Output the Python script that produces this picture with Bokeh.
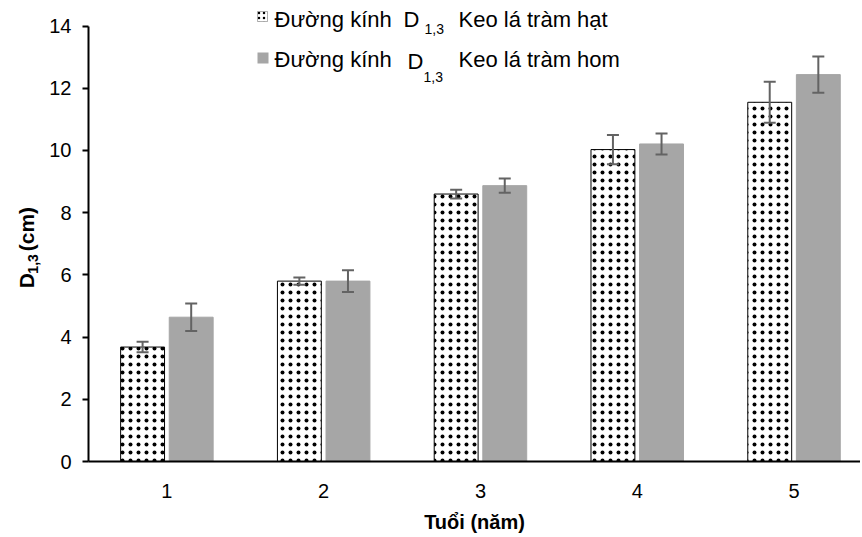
import math
from bokeh.plotting import figure
from bokeh.layouts import row
from bokeh.models import (ColumnDataSource, Whisker, Label, BoxAnnotation,
                          FixedTicker, Range1d)
from bokeh.embed import file_html
from bokeh.resources import INLINE

# ---- data ----
ages = [1, 2, 3, 4, 5]
age_labels = ["1", "2", "3", "4", "5"]
d_hat = [3.68, 5.80, 8.60, 10.03, 11.55]       # Keo lá tràm hạt
err_hat = [0.17, 0.12, 0.14, 0.47, 0.66]
d_hom = [4.64, 5.80, 8.87, 10.21, 12.44]       # Keo lá tràm hom
err_hom = [0.44, 0.35, 0.23, 0.34, 0.58]
y_ticks = [0, 2, 4, 6, 8, 10, 12, 14]

FONT = "Liberation Sans"
GRAY = "#A6A6A6"
ERR = "#636363"

OFF = 0.155
BW = 0.28

x_hat = [a - OFF for a in ages]
x_hom = [a + OFF for a in ages]

src_hat = ColumnDataSource(dict(
    x=x_hat, top=d_hat,
    upper=[v + e for v, e in zip(d_hat, err_hat)],
    lower=[v - e for v, e in zip(d_hat, err_hat)]))
src_hom = ColumnDataSource(dict(
    x=x_hom, top=d_hom,
    upper=[v + e for v, e in zip(d_hom, err_hom)],
    lower=[v - e for v, e in zip(d_hom, err_hom)]))

H = 535
TW = 46          # width of the y-title strip
W = 860 - TW

p = figure(width=W, height=H, output_backend="svg", toolbar_location=None,
           x_range=Range1d(0.5, 5.424), y_range=Range1d(0, 14.823),
           min_border_left=41, min_border_right=0, min_border_top=0,
           min_border_bottom=72)
p.outline_line_color = None
p.xgrid.grid_line_color = None
p.ygrid.grid_line_color = None
p.background_fill_color = "white"
p.border_fill_color = "white"

p.vbar(x="x", top="top", width=BW, source=src_hat, fill_color="white",
       line_color="black", line_width=1, hatch_pattern="dot",
       hatch_color="black", hatch_scale=8, hatch_weight=1)
p.vbar(x="x", top="top", width=BW, source=src_hom, fill_color=GRAY,
       line_color=GRAY, line_width=1)

for src in (src_hat, src_hom):
    w = Whisker(base="x", upper="upper", lower="lower", source=src,
                line_color=ERR, line_width=2, level="overlay")
    for head in (w.upper_head, w.lower_head):
        head.size = 12
        head.line_color = ERR
        head.line_width = 2
    p.add_layout(w)

# axes
xa = p.xaxis[0]
xa.ticker = FixedTicker(ticks=ages)
xa.major_label_overrides = {a: l for a, l in zip(ages, age_labels)}
xa.major_tick_line_color = None
xa.minor_tick_line_color = None
xa.axis_line_color = "black"
xa.axis_line_width = 2
xa.major_label_text_font = FONT
xa.major_label_text_font_size = "20px"
xa.major_label_text_color = "black"
xa.major_label_standoff = 16
xa.axis_label = "Tuổi (năm)"
xa.axis_label_text_font = FONT
xa.axis_label_text_font_size = "20px"
xa.axis_label_text_font_style = "bold"
xa.axis_label_text_color = "black"
xa.axis_label_standoff = 10

ya = p.yaxis[0]
ya.ticker = FixedTicker(ticks=y_ticks)
ya.bounds = (0, 14)
ya.minor_tick_line_color = None
ya.axis_line_color = "black"
ya.axis_line_width = 2
ya.major_tick_line_color = "black"
ya.major_tick_line_width = 2
ya.major_tick_out = 6
ya.major_tick_in = 0
ya.major_label_text_font = FONT
ya.major_label_text_font_size = "20px"
ya.major_label_text_color = "black"
ya.major_label_standoff = 11

# page coords -> screen coords relative to the frame's bottom-left
FX, FY = 87, 463


def sx(px):
    return px - FX


def sy(py):
    return FY - py


def lab(fig, text, x, y, size, bold=False, angle=0.0, units="screen"):
    fig.add_layout(Label(x=x, y=y, x_units=units, y_units=units,
                         text=text, text_font=FONT, text_font_size=f"{size}px",
                         text_font_style="bold" if bold else "normal",
                         text_color="black", angle=angle, text_align="left",
                         text_baseline="middle"))


# legend (manual, for the subscripts)
p.add_layout(BoxAnnotation(left=sx(256), right=sx(266), top=sy(13), bottom=sy(23),
                           left_units="screen", right_units="screen",
                           top_units="screen", bottom_units="screen",
                           fill_color="white", fill_alpha=1, line_color="black",
                           line_width=1, hatch_pattern="dot", hatch_color="black",
                           hatch_scale=5, hatch_weight=1))
p.add_layout(BoxAnnotation(left=sx(256), right=sx(267), top=sy(54), bottom=sy(65),
                           left_units="screen", right_units="screen",
                           top_units="screen", bottom_units="screen",
                           fill_color=GRAY, fill_alpha=1, line_color=None))

lab(p, "Đường kính", sx(273), sy(21), 22)
lab(p, "D", sx(402), sy(21), 22)
lab(p, "1,3", sx(423), sy(30), 14)
lab(p, "Keo lá tràm hạt", sx(457), sy(21), 22)

lab(p, "Đường kính", sx(273), sy(61), 22)
lab(p, "D", sx(406), sy(63), 22)
lab(p, "1,3", sx(422), sy(78), 14)
lab(p, "Keo lá tràm hom", sx(457), sy(61), 22)

# y-axis title strip (rotated text with a subscript)
t = figure(width=TW, height=H, output_backend="svg", toolbar_location=None,
           x_range=Range1d(0, TW), y_range=Range1d(H, 0),
           x_axis_type=None, y_axis_type=None,
           min_border_left=0, min_border_right=0, min_border_top=0,
           min_border_bottom=0)
t.outline_line_color = None
t.xgrid.grid_line_color = None
t.ygrid.grid_line_color = None
t.background_fill_color = "white"
t.border_fill_color = "white"

lab(t, "D", 26, 334, 21, bold=True, angle=math.pi / 2, units="data")
lab(t, "1,3", 32, 317, 14, bold=True, angle=math.pi / 2, units="data")
lab(t, "(cm)", 26, 291, 21, bold=True, angle=math.pi / 2, units="data")

layout = row(t, p, spacing=0)
open("out.html", "w").write(file_html(layout, INLINE))
